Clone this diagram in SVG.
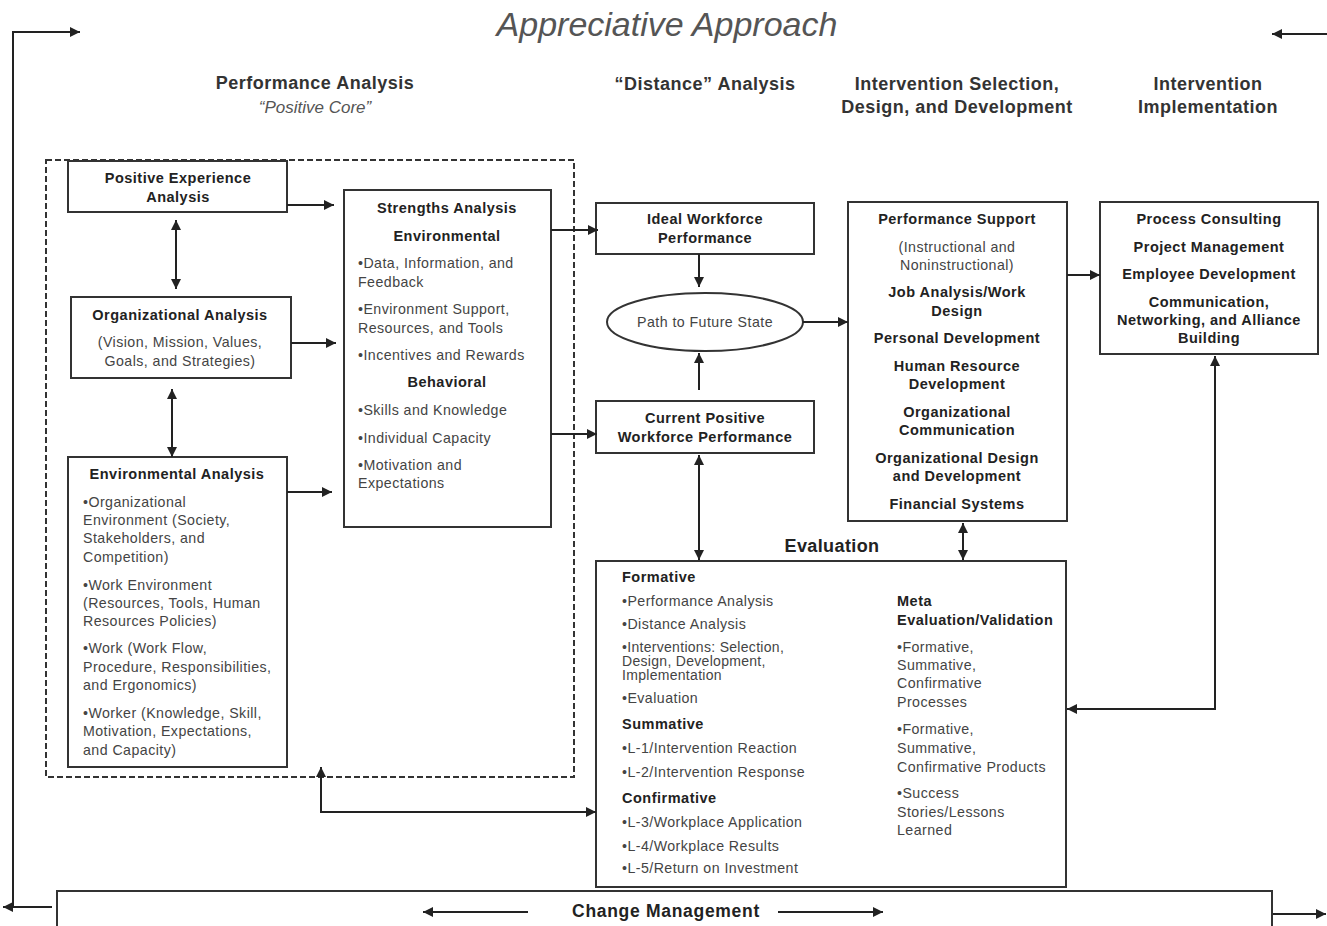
<svg xmlns="http://www.w3.org/2000/svg" width="1327" height="926" viewBox="0 0 1327 926">
<style>
.box{fill:#fff;stroke:#333;stroke-width:2}
.dash{fill:none;stroke:#333;stroke-width:2;stroke-dasharray:6 3}
.ln{fill:none;stroke:#222;stroke-width:2}
text{font-family:"Liberation Sans",Arial,sans-serif}
.t{font-size:14.2px;letter-spacing:0.45px;fill:#444}
.b{font-size:14.5px;letter-spacing:0.5px;font-weight:bold;fill:#222}
.c{text-anchor:middle}
.h{font-size:18px;letter-spacing:0.5px;font-weight:bold;fill:#333}
.sm{font-size:14px;letter-spacing:0.3px}
</style>
<defs>
<marker id="ah" viewBox="0 0 10 10" refX="10" refY="5" markerWidth="12" markerHeight="10" orient="auto-start-reverse" markerUnits="userSpaceOnUse">
<path d="M0,0 L10,5 L0,10 z" fill="#222"/>
</marker>
</defs>

<rect width="1327" height="926" fill="#fff"/>

<g id="title">
<text x="667" y="36" class="c" font-size="34" font-style="italic" fill="#555">Appreciative Approach</text>
</g>

<g id="headers">
<text x="315" y="89" class="h c">Performance Analysis</text>
<text x="315" y="113" class="c" font-size="17" font-style="italic" fill="#555">“Positive Core”</text>
<text x="705" y="90" class="h c">“Distance” Analysis</text>
<text x="957" y="90" class="h c">Intervention Selection,</text>
<text x="957" y="113" class="h c">Design, and Development</text>
<text x="1208" y="90" class="h c">Intervention</text>
<text x="1208" y="113" class="h c">Implementation</text>
</g>

<g id="positive-core-frame">
<rect x="46" y="160" width="528" height="617" class="dash"/>
</g>

<g id="positive-experience">
<rect x="68" y="161" width="219" height="51" class="box"/>
<text x="178" y="183" class="b c">Positive Experience</text>
<text x="178" y="202" class="b c">Analysis</text>
</g>

<g id="organizational-analysis">
<rect x="71" y="297" width="220" height="81" class="box"/>
<text x="180" y="320" class="b c">Organizational Analysis</text>
<text x="180" y="347" class="t c">(Vision, Mission, Values,</text>
<text x="180" y="366" class="t c">Goals, and Strategies)</text>
</g>

<g id="environmental-analysis">
<rect x="68" y="457" width="219" height="310" class="box"/>
<text x="177" y="479" class="b c">Environmental Analysis</text>
<text class="t">
<tspan x="83" y="507">•Organizational</tspan>
<tspan x="83" y="525">Environment (Society,</tspan>
<tspan x="83" y="543">Stakeholders, and</tspan>
<tspan x="83" y="562">Competition)</tspan>
<tspan x="83" y="590">•Work Environment</tspan>
<tspan x="83" y="608">(Resources, Tools, Human</tspan>
<tspan x="83" y="626">Resources Policies)</tspan>
<tspan x="83" y="653">•Work (Work Flow,</tspan>
<tspan x="83" y="672">Procedure, Responsibilities,</tspan>
<tspan x="83" y="690">and Ergonomics)</tspan>
<tspan x="83" y="718">•Worker (Knowledge, Skill,</tspan>
<tspan x="83" y="736">Motivation, Expectations,</tspan>
<tspan x="83" y="755">and Capacity)</tspan>
</text>
</g>

<g id="strengths-analysis">
<rect x="344" y="190" width="207" height="337" class="box"/>
<text x="447" y="213" class="b c">Strengths Analysis</text>
<text x="447" y="241" class="b c">Environmental</text>
<text class="t">
<tspan x="358" y="268">•Data, Information, and</tspan>
<tspan x="358" y="287">Feedback</tspan>
<tspan x="358" y="314">•Environment Support,</tspan>
<tspan x="358" y="333">Resources, and Tools</tspan>
<tspan x="358" y="360">•Incentives and Rewards</tspan>
</text>
<text x="447" y="387" class="b c">Behavioral</text>
<text class="t">
<tspan x="358" y="415">•Skills and Knowledge</tspan>
<tspan x="358" y="443">•Individual Capacity</tspan>
<tspan x="358" y="470">•Motivation and</tspan>
<tspan x="358" y="488">Expectations</tspan>
</text>
</g>

<g id="ideal-workforce">
<rect x="596" y="203" width="218" height="51" class="box"/>
<text x="705" y="224" class="b c">Ideal Workforce</text>
<text x="705" y="243" class="b c">Performance</text>
</g>

<g id="path-future">
<ellipse cx="705" cy="322" rx="98" ry="29" class="box"/>
<text x="705" y="327" class="t c">Path to Future State</text>
</g>

<g id="current-workforce">
<rect x="596" y="401" width="218" height="52" class="box"/>
<text x="705" y="423" class="b c">Current Positive</text>
<text x="705" y="442" class="b c">Workforce Performance</text>
</g>

<g id="performance-support">
<rect x="848" y="202" width="219" height="319" class="box"/>
<text x="957" y="224" class="b c">Performance Support</text>
<text x="957" y="252" class="t c">(Instructional and</text>
<text x="957" y="270" class="t c">Noninstructional)</text>
<text x="957" y="297" class="b c">Job Analysis/Work</text>
<text x="957" y="316" class="b c">Design</text>
<text x="957" y="343" class="b c">Personal Development</text>
<text x="957" y="371" class="b c">Human Resource</text>
<text x="957" y="389" class="b c">Development</text>
<text x="957" y="417" class="b c">Organizational</text>
<text x="957" y="435" class="b c">Communication</text>
<text x="957" y="463" class="b c">Organizational Design</text>
<text x="957" y="481" class="b c">and Development</text>
<text x="957" y="509" class="b c">Financial Systems</text>
</g>

<g id="implementation">
<rect x="1100" y="202" width="218" height="152" class="box"/>
<text x="1209" y="224" class="b c">Process Consulting</text>
<text x="1209" y="252" class="b c">Project Management</text>
<text x="1209" y="279" class="b c">Employee Development</text>
<text x="1209" y="307" class="b c">Communication,</text>
<text x="1209" y="325" class="b c">Networking, and Alliance</text>
<text x="1209" y="343" class="b c">Building</text>
</g>

<g id="evaluation">
<text x="832" y="552" class="c" font-size="18" font-weight="bold" letter-spacing="0.4" fill="#222">Evaluation</text>
<rect x="596" y="561" width="470" height="326" class="box"/>
<text x="622" y="582" class="b">Formative</text>
<text class="t">
<tspan x="622" y="606">•Performance Analysis</tspan>
<tspan x="622" y="629">•Distance Analysis</tspan>
</text>
<text class="t sm">
<tspan x="622" y="652">•Interventions: Selection,</tspan>
<tspan x="622" y="666">Design, Development,</tspan>
<tspan x="622" y="680">Implementation</tspan>
</text>
<text x="622" y="703" class="t">•Evaluation</text>
<text x="622" y="729" class="b">Summative</text>
<text class="t">
<tspan x="622" y="753">•L-1/Intervention Reaction</tspan>
<tspan x="622" y="777">•L-2/Intervention Response</tspan>
</text>
<text x="622" y="803" class="b">Confirmative</text>
<text class="t">
<tspan x="622" y="827">•L-3/Workplace Application</tspan>
<tspan x="622" y="851">•L-4/Workplace Results</tspan>
<tspan x="622" y="873">•L-5/Return on Investment</tspan>
</text>
<text x="897" y="606" class="b">Meta</text>
<text x="897" y="625" class="b">Evaluation/Validation</text>
<text class="t">
<tspan x="897" y="652">•Formative,</tspan>
<tspan x="897" y="670">Summative,</tspan>
<tspan x="897" y="688">Confirmative</tspan>
<tspan x="897" y="707">Processes</tspan>
<tspan x="897" y="734">•Formative,</tspan>
<tspan x="897" y="753">Summative,</tspan>
<tspan x="897" y="772">Confirmative Products</tspan>
<tspan x="897" y="798">•Success</tspan>
<tspan x="897" y="817">Stories/Lessons</tspan>
<tspan x="897" y="835">Learned</tspan>
</text>
</g>

<g id="change-management">
<rect x="57" y="891" width="1215" height="60" class="box"/>
<text x="666" y="917" class="c" font-size="17.5" font-weight="bold" letter-spacing="0.7" fill="#222">Change Management</text>
</g>

<g id="connectors">
<path d="M13,907 L13,32 L80,32" class="ln" marker-end="url(#ah)"/>
<line x1="52" y1="907" x2="3" y2="907" class="ln" marker-end="url(#ah)"/>
<line x1="1327" y1="34" x2="1272" y2="34" class="ln" marker-end="url(#ah)"/>
<line x1="1273" y1="914" x2="1326" y2="914" class="ln" marker-end="url(#ah)"/>
<line x1="528" y1="912" x2="423" y2="912" class="ln" marker-end="url(#ah)"/>
<line x1="778" y1="912" x2="883" y2="912" class="ln" marker-end="url(#ah)"/>

<line x1="287" y1="205" x2="334" y2="205" class="ln" marker-end="url(#ah)"/>
<line x1="291" y1="343" x2="336" y2="343" class="ln" marker-end="url(#ah)"/>
<line x1="287" y1="492" x2="332" y2="492" class="ln" marker-end="url(#ah)"/>
<line x1="176" y1="220" x2="176" y2="289" class="ln" marker-start="url(#ah)" marker-end="url(#ah)"/>
<line x1="172" y1="389" x2="172" y2="457" class="ln" marker-start="url(#ah)" marker-end="url(#ah)"/>

<line x1="551" y1="230" x2="598" y2="230" class="ln" marker-end="url(#ah)"/>
<line x1="551" y1="434" x2="597" y2="434" class="ln" marker-end="url(#ah)"/>
<line x1="699" y1="254" x2="699" y2="287" class="ln" marker-end="url(#ah)"/>
<line x1="699" y1="390" x2="699" y2="353" class="ln" marker-end="url(#ah)"/>
<line x1="803" y1="322" x2="848" y2="322" class="ln" marker-end="url(#ah)"/>
<line x1="1067" y1="275" x2="1100" y2="275" class="ln" marker-end="url(#ah)"/>

<line x1="699" y1="455" x2="699" y2="560" class="ln" marker-start="url(#ah)" marker-end="url(#ah)"/>
<line x1="963" y1="523" x2="963" y2="560" class="ln" marker-start="url(#ah)" marker-end="url(#ah)"/>
<path d="M1215,356 L1215,709 L1067,709" class="ln" marker-start="url(#ah)" marker-end="url(#ah)"/>
<path d="M321,767 L321,812 L596,812" class="ln" marker-start="url(#ah)" marker-end="url(#ah)"/>
</g>
</svg>
